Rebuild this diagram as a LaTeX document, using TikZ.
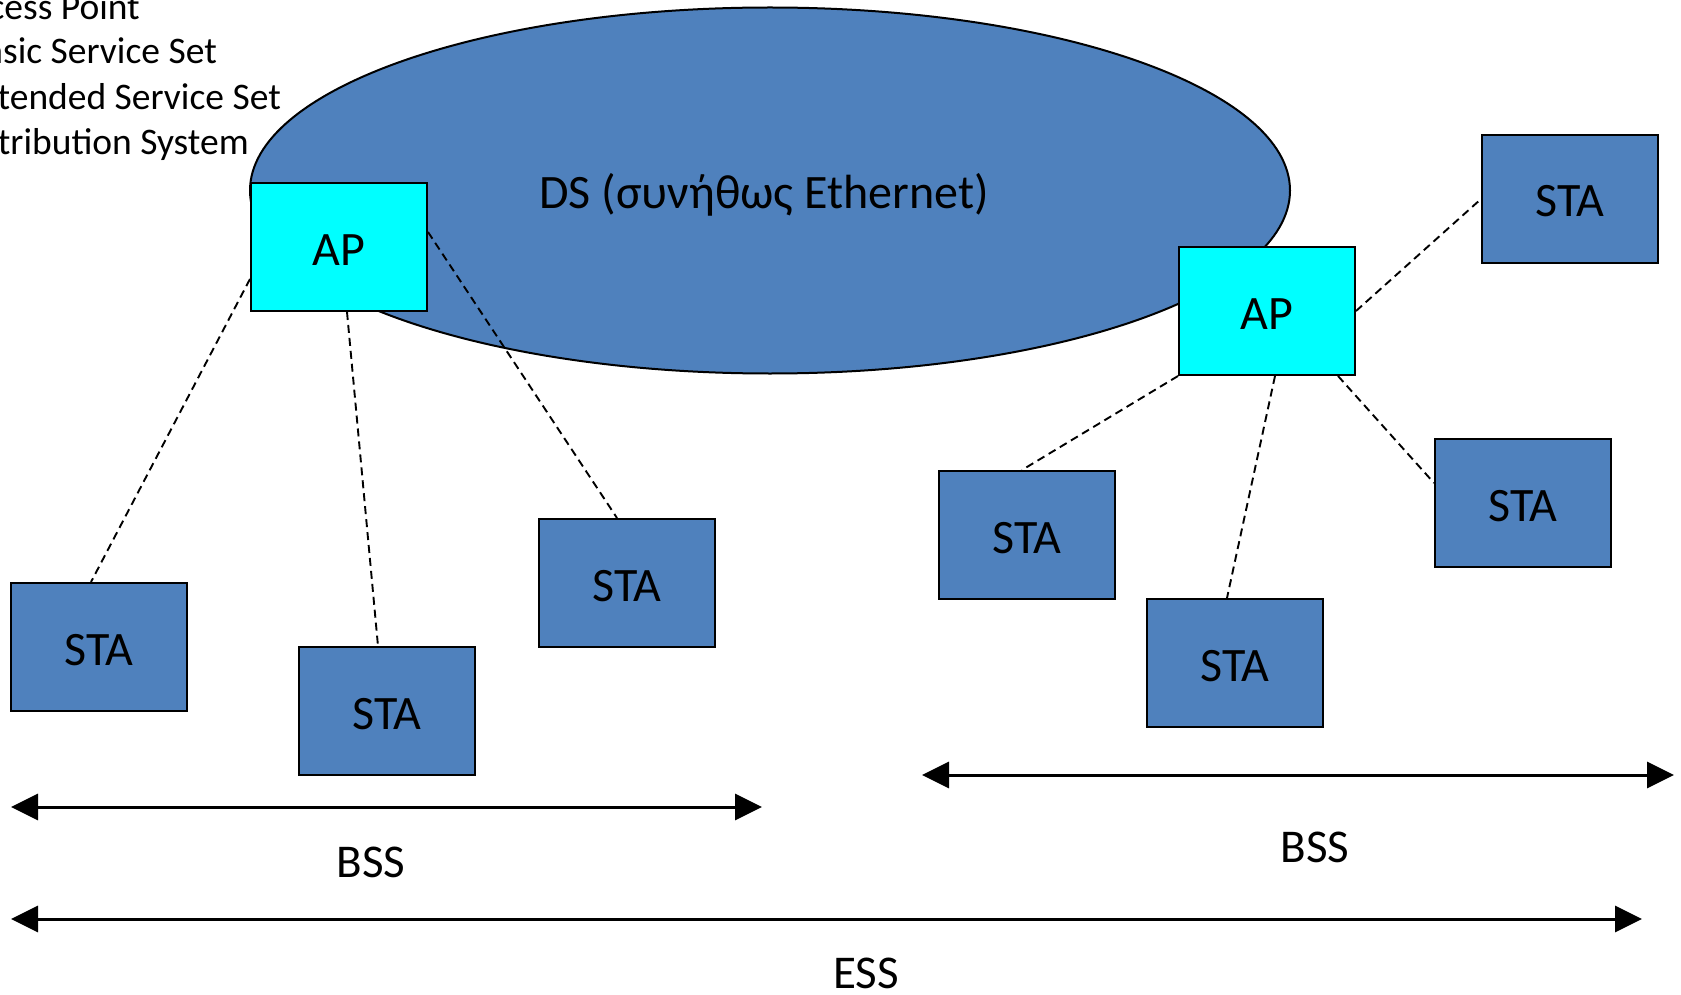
\documentclass[tikz,border=0pt]{standalone}
\usepackage{fontspec}
\setmainfont{Carlito}
\usetikzlibrary{shapes.geometric,arrows.meta}
\definecolor{dsblue}{HTML}{4F81BD}
\definecolor{apcyan}{HTML}{00FFFF}

\begin{document}
\begin{tikzpicture}[x=1pt,y=-1pt,
  box/.style={draw=black, line width=2pt, minimum width=176pt, minimum height=128pt,
              inner sep=0pt, font=\fontsize{48}{58}\selectfont,
              text height=36pt, text depth=0pt},
  sta/.style={box, fill=dsblue},
  ap/.style={box, fill=apcyan},
  link/.style={draw=black, line width=1.9pt, dash pattern=on 8pt off 5pt},
  span/.style={line width=3pt,
               {Triangle[length=27pt,width=26pt]}-{Triangle[length=27pt,width=26pt]}},
  lbl/.style={font=\fontsize{47}{56}\selectfont, inner sep=0pt, anchor=base},
  legend/.style={font=\fontsize{37.5}{45}\selectfont, inner sep=0pt, anchor=base east}]

\useasboundingbox (0,0) rectangle (1681,995);

% legend lines along the left edge
\node[legend] (l1) at (140,20)  {cess Point};
\node[legend] (l2) at (217,64)  {asic Service Set};
\node[legend] (l3) at (281,110) {tended Service Set};
\node[legend] (l4) at (249,155) {tribution System};

% distribution system
\node[draw=black, ellipse, fill=dsblue, line width=2pt, minimum width=1040pt,
      minimum height=366pt, inner sep=0pt] (ds) at (770,190.5) {};
\node[lbl, font=\fontsize{48}{58}\selectfont] (dslabel) at (764,209) {DS (συνήθως Ethernet)};

% access points
\node[ap] (ap1) at (339,247) {AP};
\node[ap] (ap2) at (1267,311) {AP};

% stations
\node[sta] (sta1) at (99,647)   {STA};
\node[sta] (sta2) at (387,711)  {STA};
\node[sta] (sta3) at (627,583)  {STA};
\node[sta] (sta4) at (1027,535) {STA};
\node[sta] (sta5) at (1235,663) {STA};
\node[sta] (sta6) at (1523,503) {STA};
\node[sta] (sta7) at (1570,199) {STA};

% wireless associations
\draw[link] ([yshift=-32pt]ap1.west) -- ([xshift=-8pt]sta1.north);
\draw[link] ([xshift=8pt]ap1.south) -- ([xshift=-9pt]sta2.north);
\draw[link] ([yshift=15pt]ap1.east) -- ([xshift=-10pt]sta3.north);
\draw[link] (ap2.east) -- (sta7.west);
\draw[link] (ap2.south west) -- ([xshift=-5pt]sta4.north);
\draw[link] ([xshift=8pt]ap2.south) -- ([xshift=-8pt]sta5.north);
\draw[link] ([xshift=71pt]ap2.south) -- ([yshift=20pt]sta6.west);

% extents of the service sets
\coordinate (b1l) at (11,807);
\coordinate (b1r) at (762,807);
\coordinate (b2l) at (922,775);
\coordinate (b2r) at (1674,775);
\coordinate (el) at (11,919);
\coordinate (er) at (1642,919);
\draw[span] (b1l) -- (b1r);
\draw[span] (b2l) -- (b2r);
\draw[span] (el) -- (er);

\node[lbl] (bss1) at (371,877) {BSS};
\node[lbl] (bss2) at (1315,862) {BSS};
\node[lbl] (ess)  at (866,988) {ESS};
\end{tikzpicture}
\end{document}
